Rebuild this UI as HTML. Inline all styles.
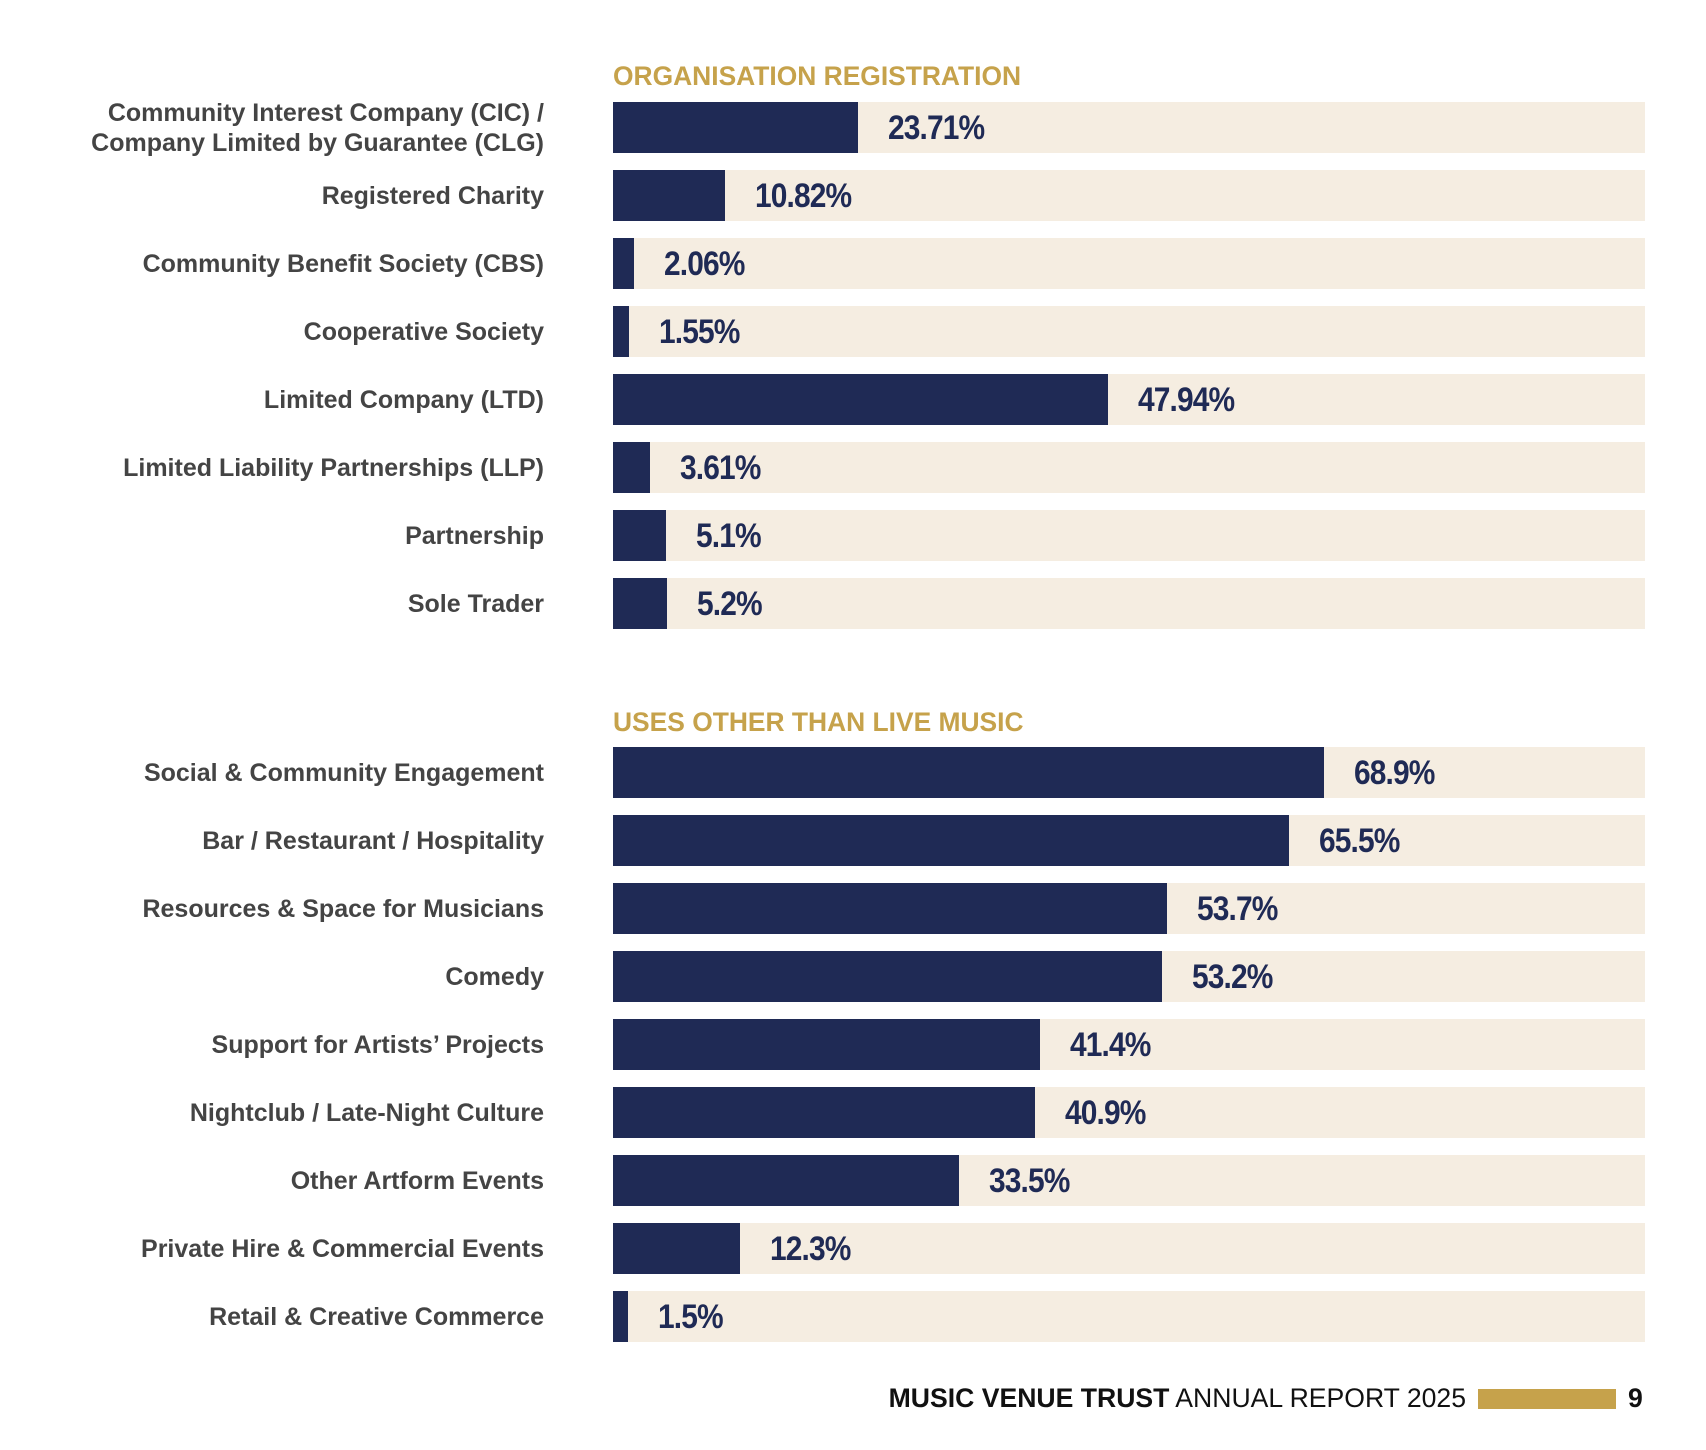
<!DOCTYPE html>
<html><head><meta charset="utf-8"><style>
html,body{margin:0;padding:0;background:#fff;}
#page{position:relative;width:1706px;height:1450px;overflow:hidden;font-family:"Liberation Sans",sans-serif;}
.title{position:absolute;left:613px;color:#c6a24b;font-weight:bold;font-size:26.4px;white-space:nowrap;}
.track{position:absolute;left:613px;width:1032px;height:51px;background:#f5ede1;}
.bar{position:absolute;left:0;top:0;height:51px;background:#1f2a55;}
.lab{position:absolute;right:1162px;color:#444;font-weight:bold;font-size:25px;text-align:right;line-height:30px;white-space:nowrap;}
.val{position:absolute;top:8px;color:#1f2a55;font-weight:bold;font-size:34px;line-height:36px;transform:scaleX(0.88);transform-origin:left center;white-space:nowrap;letter-spacing:-1px;}
.foot{position:absolute;top:1383px;font-size:26.6px;color:#111;white-space:nowrap;}
</style></head><body>
<div id="page">
<div class="title" style="top:61px">ORGANISATION REGISTRATION</div>
<div class="title" style="top:707px">USES OTHER THAN LIVE MUSIC</div>
<div class="foot" style="right:240px"><b>MUSIC VENUE TRUST</b> ANNUAL REPORT 2025</div>
<div style="position:absolute;left:1478px;top:1389px;width:138px;height:20px;background:#c6a24b"></div>
<div class="foot" style="left:1628px;font-weight:bold">9</div>
</div>
<script>
const orgCategories=["Community Interest Company (CIC) /<br>Company Limited by Guarantee (CLG)","Registered Charity","Community Benefit Society (CBS)","Cooperative Society","Limited Company (LTD)","Limited Liability Partnerships (LLP)","Partnership","Sole Trader"];
const orgValues=[23.71,10.82,2.06,1.55,47.94,3.61,5.1,5.2];
const orgLabels=["23.71%","10.82%","2.06%","1.55%","47.94%","3.61%","5.1%","5.2%"];
const useCategories=["Social &amp; Community Engagement","Bar / Restaurant / Hospitality","Resources &amp; Space for Musicians","Comedy","Support for Artists’ Projects","Nightclub / Late-Night Culture","Other Artform Events","Private Hire &amp; Commercial Events","Retail &amp; Creative Commerce"];
const useValues=[68.9,65.5,53.7,53.2,41.4,40.9,33.5,12.3,1.5];
const useLabels=["68.9%","65.5%","53.7%","53.2%","41.4%","40.9%","33.5%","12.3%","1.5%"];
const page=document.getElementById('page');
const trackW=1032;
function x(v){return v/100*trackW;}
function build(cats,vals,labs,top0){
  cats.forEach((c,i)=>{
    const y=top0+i*68;
    const t=document.createElement('div');t.className='track';t.style.top=y+'px';
    
    
    const b=document.createElement('div');b.className='bar';b.style.width=x(vals[i])+'px';
    
    
    t.appendChild(b);
    const v=document.createElement('div');v.className='val';v.style.left=(x(vals[i])+30)+'px';v.textContent=labs[i];
    
    
    t.appendChild(v);
    page.appendChild(t);
    const l=document.createElement('div');l.className='lab';l.innerHTML=c;
    const lines=c.split('<br>').length;
    l.style.top=(y+25.5-lines*15)+'px';
    
    
    page.appendChild(l);
  });
}
build(orgCategories,orgValues,orgLabels,102);
build(useCategories,useValues,useLabels,747);
</script>
</body></html>
